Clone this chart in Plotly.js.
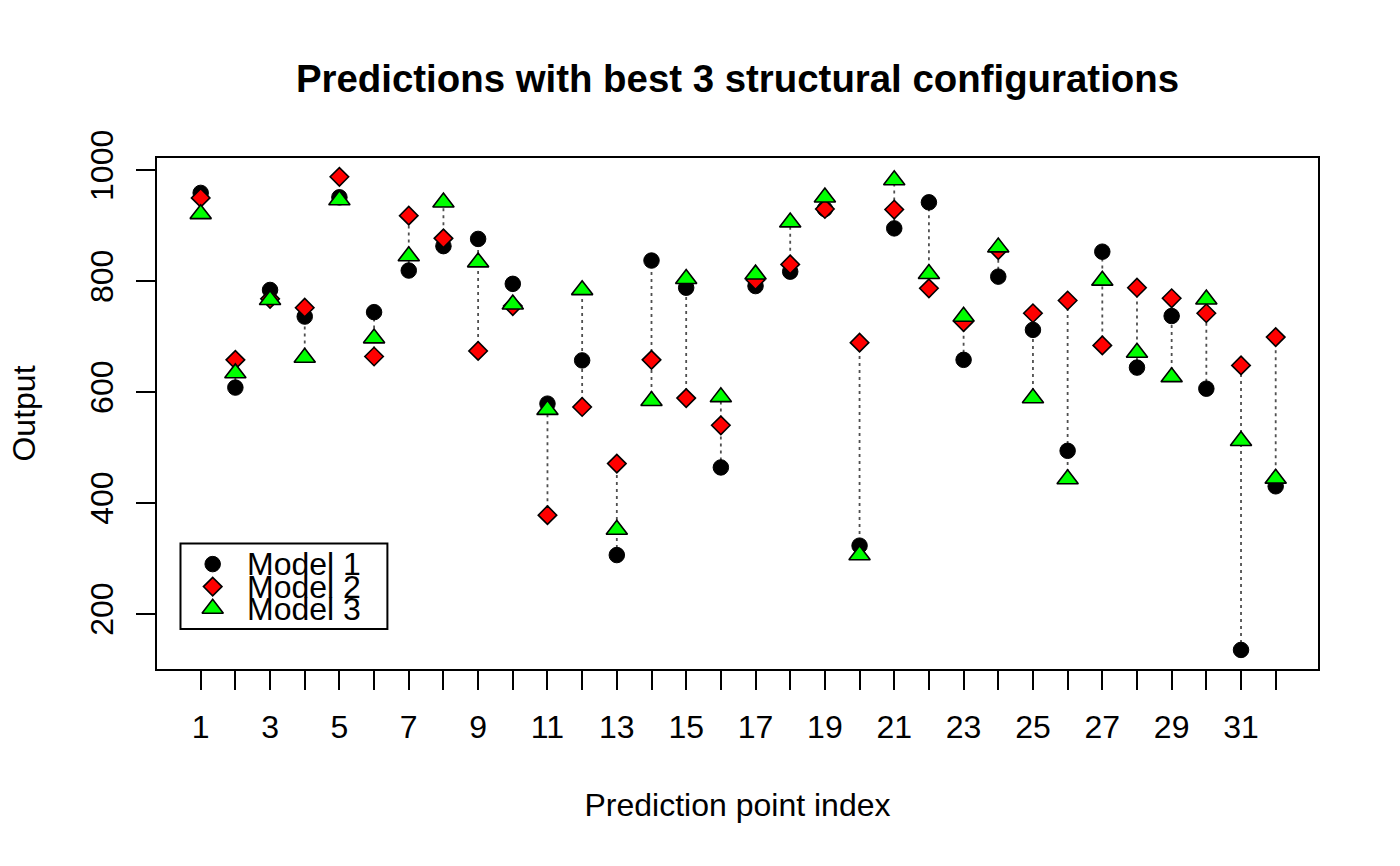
<!DOCTYPE html>
<html>
<head>
<meta charset="utf-8">
<script src="https://cdn.plot.ly/plotly-3.0.1.min.js"></script>
<style>html,body{margin:0;padding:0;background:#fff;}#chart{width:1400px;height:866px;}</style>
</head>
<body>
<div id="chart"></div>
<script>
// ---- data ----
var pointIndex = [1,2,3,4,5,6,7,8,9,10,11,12,13,14,15,16,17,18,19,20,21,22,23,24,25,26,27,28,29,30,31,32];
var model1 = [959,608,784,736,951,744,819,863,876,795,579,657,306,837,788,464,791,817,930,323,895,942,658,808,712,494,853,644,737,606,135,430];
var model2 = [950,658,768,752,988,664,918,877,674,755,378,573,471,658,589,540,802,830,930,689,929,787,726,856,742,765,684,788,769,742,648,699];
var model3 = [921,634,766,662,946,697,845,942,834,758,568,784,352,584,804,591,812,906,951,306,982,813,736,861,589,443,801,671,627,767,512,444];
var seriesNames = ["Model 1","Model 2","Model 3"];
var yTickVals = [200,400,600,800,1000];
var xTickLabels = pointIndex.map(function(v){ return (v % 2 === 1) ? String(v) : ""; });

// ---- layout constants (pixels) ----
var W = 1400, H = 866;
var PL = 157, PR = 1318.5, PT = 157.5, PB = 669;
function px2paperX(px){ return (px - PL) / (PR - PL); }
function px2paperY(py){ return (PB - py) / (PB - PT); }

var FONT = "Liberation Sans, Arial, Helvetica, sans-serif";

// connecting dotted segments (min to max of the three models)
var segX = [], segY = [];
for (var i = 0; i < pointIndex.length; i++) {
  var vals = [model1[i], model2[i], model3[i]];
  segX.push(pointIndex[i], pointIndex[i], null);
  segY.push(Math.min.apply(null, vals), Math.max.apply(null, vals), null);
}

var markerStyles = [
  {symbol: "circle", size: 15.5, color: "#000000", line: {color: "#000000", width: 1}},
  {symbol: "diamond", size: 14.2, color: "#ff0000", line: {color: "#000000", width: 1.6}},
  {symbol: "triangle-up", size: 18.5, color: "#00ff00", line: {color: "#000000", width: 1.6}}
];

var traces = [];
traces.push({
  x: segX, y: segY, mode: "lines", type: "scatter",
  line: {color: "#505050", width: 1.8, dash: "3px,4px"},
  hoverinfo: "skip", showlegend: false
});
[model1, model2, model3].forEach(function(arr, k){
  traces.push({
    x: pointIndex, y: arr, mode: "markers", type: "scatter",
    name: seriesNames[k], marker: markerStyles[k], showlegend: false
  });
});

// manual legend (box, keys on overlay axes in paper-like units, text annotations)
var legKeyX = px2paperX(212.7);
var legKeyY = [px2paperY(564), px2paperY(586.5), px2paperY(608.5)];
for (var k = 0; k < 3; k++) {
  traces.push({
    x: [legKeyX], y: [legKeyY[k]], xaxis: "x2", yaxis: "y2",
    mode: "markers", type: "scatter", marker: markerStyles[k],
    hoverinfo: "skip", showlegend: false
  });
}

var annotations = seriesNames.map(function(n, k){
  return {
    text: n, xref: "paper", yref: "paper",
    x: px2paperX(245), y: legKeyY[k], xanchor: "left", yanchor: "middle",
    showarrow: false, font: {family: FONT, size: 32, color: "#000"}
  };
});

var layout = {
  width: W, height: H,
  margin: {l: PL, r: W - PR, t: PT, b: H - PB, pad: 0},
  paper_bgcolor: "#ffffff", plot_bgcolor: "#ffffff",
  showlegend: false, hovermode: false,
  font: {family: FONT, size: 32, color: "#000"},
  title: {
    text: "Predictions with best 3 structural configurations",
    font: {family: FONT, size: 38.4, color: "#000", weight: 700},
    xref: "paper", x: 0.5, xanchor: "center",
    yref: "container", y: 1 - 78.6 / H, yanchor: "middle"
  },
  xaxis: {
    range: [-0.26, 33.22], autorange: false,
    tickmode: "array", tickvals: pointIndex, ticktext: xTickLabels,
    ticks: "outside", ticklen: 19, tickwidth: 2, tickcolor: "#000",
    showline: true, linecolor: "#000", linewidth: 2, mirror: true,
    showgrid: false, zeroline: false,
    tickfont: {family: FONT, size: 32, color: "#000"},
    ticklabelstandoff: 10,
    title: {text: "Prediction point index", font: {family: FONT, size: 32, color: "#000"}, standoff: 49},
    automargin: false
  },
  yaxis: {
    range: [100.6, 1021.9], autorange: false,
    tickmode: "array", tickvals: yTickVals, ticktext: yTickVals.map(String),
    ticks: "outside", ticklen: 19, tickwidth: 2, tickcolor: "#000",
    showline: true, linecolor: "#000", linewidth: 2, mirror: true,
    showgrid: false, zeroline: false, tickangle: -90,
    tickfont: {family: FONT, size: 32, color: "#000"},
    ticklabelstandoff: 10,
    title: {text: "Output", font: {family: FONT, size: 32, color: "#000"}, standoff: 39},
    automargin: false
  },
  xaxis2: {overlaying: "x", range: [0, 1], autorange: false, visible: false, fixedrange: true},
  yaxis2: {overlaying: "y", range: [0, 1], autorange: false, visible: false, fixedrange: true},
  shapes: [{
    type: "rect", xref: "paper", yref: "paper",
    x0: px2paperX(180.5), x1: px2paperX(387.5),
    y0: px2paperY(629), y1: px2paperY(543.5),
    line: {color: "#000", width: 2}, fillcolor: "rgba(0,0,0,0)", layer: "below"
  }],
  annotations: annotations
};

Plotly.newPlot("chart", traces, layout, {staticPlot: true, displayModeBar: false});
</script>
</body>
</html>
